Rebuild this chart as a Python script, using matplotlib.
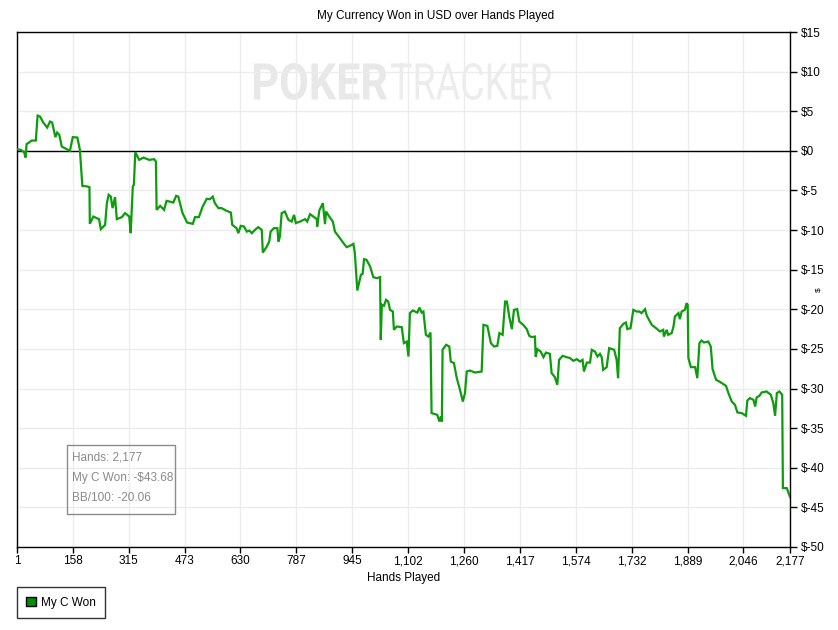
import matplotlib.pyplot as plt
from matplotlib.patches import Patch, Rectangle, PathPatch
from matplotlib.textpath import TextPath
from matplotlib.font_manager import FontProperties
from matplotlib.transforms import Affine2D
from matplotlib.ticker import FuncFormatter

plt.rcParams['font.family'] = ['Liberation Sans', 'DejaVu Sans']

# hand number / cumulative winnings
hands = [1, 11, 21, 25, 28, 35, 42, 54, 59, 66, 75, 86, 94, 100, 109, 114, 120, 127, 150, 158,
         171, 178, 185, 199, 205, 206, 216, 225, 232, 237, 249, 254, 259, 265, 270, 277, 282, 296, 305, 317,
         321, 327, 330, 334, 345, 357, 373, 387, 392, 394, 404, 415, 422, 441, 449, 455, 467, 480, 496, 502,
         513, 523, 535, 544, 552, 558, 568, 577, 589, 603, 607, 619, 624, 631, 640, 648, 655, 662, 671, 680,
         690, 693, 704, 711, 715, 724, 734, 737, 741, 746, 755, 765, 774, 781, 786, 798, 812, 818, 826, 835,
         845, 846, 852, 862, 868, 871, 880, 890, 896, 910, 920, 929, 938, 948, 952, 959, 969, 974, 978, 985,
         995, 1004, 1014, 1023, 1025, 1028, 1034, 1040, 1046, 1051, 1059, 1062, 1070, 1084, 1090, 1098, 1103, 1107, 1115, 1128,
         1134, 1140, 1145, 1152, 1159, 1165, 1168, 1184, 1190, 1194, 1197, 1199, 1209, 1218, 1222, 1231, 1239, 1248, 1256, 1262,
         1267, 1276, 1290, 1309, 1314, 1325, 1335, 1344, 1353, 1359, 1368, 1375, 1380, 1387, 1394, 1400, 1409, 1415, 1426, 1436,
         1443, 1450, 1459, 1461, 1466, 1475, 1483, 1490, 1501, 1506, 1515, 1522, 1527, 1537, 1548, 1558, 1567, 1577, 1586, 1593,
         1597, 1605, 1614, 1619, 1628, 1635, 1642, 1647, 1651, 1661, 1668, 1682, 1689, 1693, 1698, 1708, 1715, 1719, 1728, 1736,
         1745, 1753, 1759, 1769, 1774, 1788, 1800, 1811, 1820, 1822, 1830, 1834, 1844, 1849, 1853, 1863, 1867, 1872, 1881, 1886,
         1889, 1891, 1898, 1910, 1916, 1922, 1928, 1935, 1947, 1954, 1959, 1969, 1978, 1997, 2003, 2013, 2022, 2029, 2041, 2053,
         2057, 2064, 2074, 2079, 2083, 2091, 2097, 2111, 2123, 2130, 2135, 2140, 2147, 2155, 2157, 2168, 2177]

won = [0.21, 0.13, -0.16, -0.84, 0.85, 1.05, 1.30, 1.30, 4.45, 4.33, 3.57, 2.94, 3.70, 3.57, 1.73, 2.31, 2.02, 0.54, 0.00, 1.73,
       1.68, 0.13, -4.42, -4.50, -4.58, -9.21, -8.29, -8.49, -8.62, -9.88, -9.34, -6.60, -5.55, -5.77, -7.23, -5.84, -8.62, -8.37, -7.86, -8.29,
       -10.39, -4.50, -4.29, -0.16, -1.14, -0.85, -1.14, -1.05, -1.35, -7.45, -6.94, -7.45, -6.31, -6.52, -5.68, -5.77, -7.86, -9.05, -9.21, -8.37,
       -8.37, -7.10, -6.06, -6.10, -5.77, -6.60, -7.23, -7.23, -7.53, -7.79, -9.34, -9.76, -10.39, -9.47, -9.55, -10.19, -10.06, -10.39, -9.97, -9.63,
       -9.97, -12.84, -12.08, -11.45, -10.19, -9.76, -9.76, -11.45, -10.82, -7.86, -7.66, -8.71, -8.92, -8.08, -9.12, -8.92, -8.62, -8.92, -7.99, -8.29,
       -8.62, -9.55, -7.53, -6.60, -9.25, -7.66, -8.29, -8.92, -10.19, -11.02, -11.65, -12.15, -11.99, -11.74, -12.91, -17.63, -15.65, -15.52, -13.67, -13.76,
       -14.60, -15.94, -16.07, -15.94, -23.85, -19.43, -19.56, -18.80, -19.02, -20.07, -20.28, -22.59, -22.17, -22.25, -24.27, -24.07, -25.96, -20.48, -20.15, -20.41,
       -19.78, -20.41, -20.28, -23.22, -23.44, -22.93, -33.10, -33.32, -34.16, -33.53, -34.16, -25.11, -24.48, -24.70, -26.59, -26.79, -28.69, -30.16, -31.64, -30.58,
       -27.85, -27.73, -27.98, -27.85, -21.96, -22.09, -24.27, -24.70, -24.61, -23.00, -23.22, -19.02, -19.02, -20.99, -22.50, -20.07, -19.98, -21.54, -21.96, -22.50,
       -23.35, -23.51, -23.44, -25.96, -25.03, -25.33, -26.04, -25.46, -25.62, -28.05, -28.56, -29.53, -26.38, -25.87, -26.04, -26.16, -26.50, -26.29, -26.59, -26.38,
       -27.85, -26.72, -26.72, -25.11, -25.33, -25.96, -25.62, -26.04, -27.64, -27.30, -24.90, -25.11, -26.38, -28.69, -22.38, -21.83, -21.67, -22.50, -22.38, -20.07,
       -20.28, -20.28, -20.48, -19.98, -20.82, -21.96, -22.38, -22.80, -22.59, -23.44, -22.59, -23.22, -23.00, -22.17, -20.91, -20.48, -21.24, -20.28, -20.07, -19.22,
       -19.43, -26.16, -27.30, -27.30, -28.69, -24.27, -23.94, -24.19, -24.07, -24.70, -27.55, -28.90, -29.11, -29.66, -30.50, -31.64, -32.05, -33.02, -33.10, -33.44,
       -31.51, -31.21, -31.42, -32.27, -31.13, -30.92, -30.50, -30.37, -30.79, -31.84, -33.44, -30.58, -30.37, -30.79, -42.57, -42.57, -43.68]

xticks = [1, 158, 315, 473, 630, 787, 945, 1102, 1260, 1417, 1574, 1732, 1889, 2046, 2177]
yticks = list(range(-50, 20, 5))

info_lines = ['Hands: 2,177', 'My C Won: -\\$43.68', 'BB/100: -20.06']

LINE_GREEN = '#0c9c0c'
W, H = 838, 630

fig = plt.figure(figsize=(W / 100, H / 100), dpi=100)
ax = fig.add_axes([17 / W, 1 - 547 / H, 773 / W, 515 / H])

ax.plot(hands, won, color=LINE_GREEN, lw=1.6, zorder=3, solid_joinstyle='miter')
ax.axhline(0, color='black', lw=1, zorder=2)

ax.set_xlim(1, 2177)
ax.set_ylim(-50, 15)
ax.set_xticks(xticks)
ax.set_yticks(yticks)
ax.xaxis.set_major_formatter(FuncFormatter(lambda v, p: f'{int(v):,}'))
ax.yaxis.set_major_formatter(FuncFormatter(lambda v, p: f'\\${int(v)}'))
ax.yaxis.tick_right()
ax.tick_params(axis='x', length=4, width=1, labelsize=8.5, pad=2, direction='out')
ax.tick_params(axis='y', length=5, width=1, labelsize=8.5, pad=3, direction='out')
for s in ax.spines.values():
    s.set_color('black')
    s.set_linewidth(1)

ax.set_axisbelow(True)
ax.grid(True, color='#ececec', lw=1)

ax.set_xlabel('Hands Played', fontsize=8.5, labelpad=3)
# the little currency sign sits right of the y labels
fig.text(819 / W, 1 - 290 / H, '\\$', fontsize=6, rotation=90, ha='center', va='center')

fig.text(436 / W, 1 - 16 / H, 'My Currency Won in USD over Hands Played',
         ha='center', va='center', fontsize=8.5)


# faint watermark, squeezed into a box given in figure pixels
def watermark(text, weight, x0, x1, ytop, ybot, color):
    tp = TextPath((0, 0), text, size=1, prop=FontProperties(family='Roboto', weight=weight))
    bb = tp.get_extents()
    sx = (x1 - x0) / bb.width / W
    sy = (ybot - ytop) / bb.height / H
    tr = Affine2D().translate(-bb.x0, -bb.y0).scale(sx, sy).translate(x0 / W, 1 - ybot / H) + fig.transFigure
    ax.add_artist(PathPatch(tp, transform=tr, fc=color, ec='none', zorder=0.4))


watermark('POKER', 'bold', 254, 387, 63, 100, '#e8e8e8')
watermark('TRACKER', 'normal', 391, 552, 63, 100, '#ececec')

# summary box
fig.add_artist(Rectangle((67 / W, 1 - 514 / H), 108 / W, 69 / H, transform=fig.transFigure,
                         fc='none', ec='#8c8c8c', lw=1))
for i, line in enumerate(info_lines):
    fig.text(72 / W, 1 - (458 + 20 * i) / H, line, ha='left', va='center',
             fontsize=8.5, color='#8a8a8a')

leg = fig.legend(handles=[Patch(facecolor='#008f00', edgecolor='black', label='My C Won')],
                 loc='lower left', bbox_to_anchor=(17 / W, 1 - 618 / H), bbox_transform=fig.transFigure,
                 frameon=True, fancybox=False, fontsize=8.5, handlelength=0.8, handleheight=0.8,
                 handletextpad=0.4, borderaxespad=0, borderpad=0.8)
leg.get_frame().set_edgecolor('black')
leg.get_frame().set_linewidth(1)

fig.savefig('out.png', dpi=100, facecolor='white')
